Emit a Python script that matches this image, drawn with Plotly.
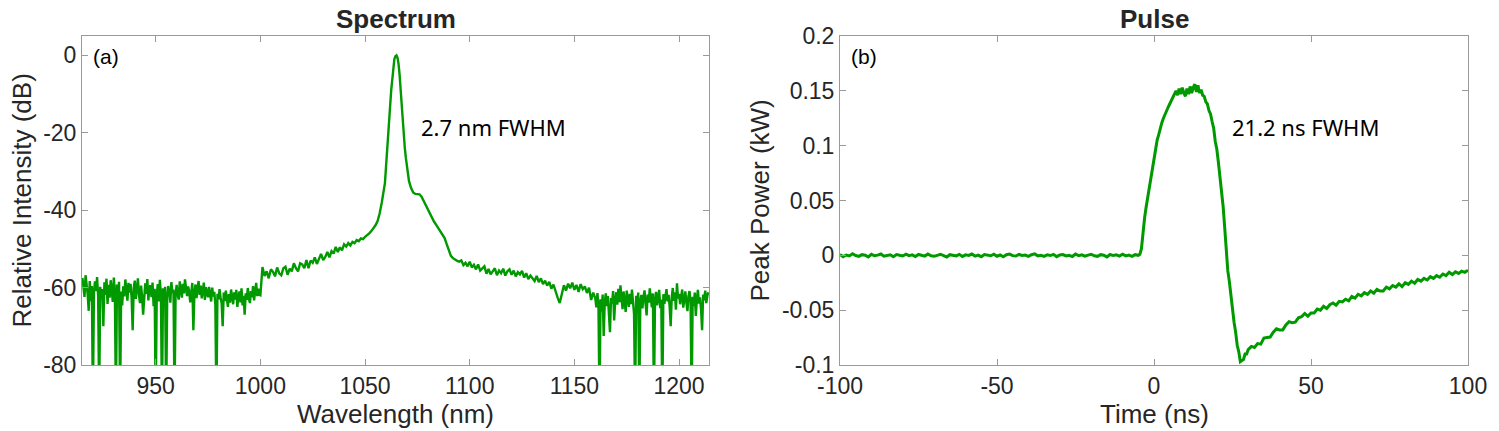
import plotly.graph_objects as go

# ---- spectrum (a): wavelength in nm, relative intensity in dB ----
# noisy floor on the short-wavelength side, 0.5 nm steps; -90 marks the detector dropouts below the axis
wl_left = [915 + 0.5 * i for i in range(171)]
db_left = [-57.5, -60.2, -62.4, -56.8, -59.1, -61.7, -66.0, -58.3, -63.5, -59.6,
           -90, -61.2, -58.4, -60.9, -57.3, -62.1, -90, -59.8, -63.0, -60.4,
           -70.0, -58.6, -61.9, -57.7, -64.2, -59.3, -62.6, -58.1, -60.8, -63.7,
           -57.4, -61.5, -90, -59.2, -62.8, -58.5, -90, -61.0, -64.6, -59.7,
           -62.3, -57.9, -60.6, -63.4, -58.8, -61.3, -59.0, -62.7, -71.0, -60.1,
           -58.2, -62.9, -60.4, -57.6, -61.8, -64.0, -59.5, -62.2, -67.0, -60.7,
           -58.9, -61.6, -57.8, -63.3, -60.0, -59.4, -62.5, -58.7, -64.8, -60.3,
           -90, -61.9, -59.1, -63.6, -58.0, -62.0, -90, -60.2, -64.3, -59.8,
           -90, -62.4, -59.6, -61.1, -63.9, -58.6, -61.4, -60.5, -90, -62.0,
           -59.3, -61.8, -63.1, -58.4, -60.7, -62.6, -59.0, -61.5, -57.9, -60.9,
           -62.2, -59.7, -61.0, -63.8, -60.3, -58.8, -71.0, -61.6, -59.2, -62.7,
           -60.1, -58.3, -61.9, -59.5, -62.8, -60.6, -58.7, -63.2, -59.9, -61.3,
           -62.5, -59.8, -61.2, -63.6, -60.0, -62.3, -61.1, -64.5, -90, -61.6,
           -63.0, -60.4, -62.6, -64.1, -70.0, -61.3, -63.5, -60.8, -62.9, -65.0,
           -61.7, -63.9, -60.5, -62.8, -64.3, -61.2, -63.1, -60.6, -65.0, -62.4,
           -61.0, -63.8, -60.2, -64.6, -62.1, -67.0, -61.5, -63.2, -60.1, -62.7,
           -64.0, -60.9, -62.5, -59.6, -63.3, -61.0, -58.8, -62.2, -60.3, -61.9,
           -62.0]

# rising wing after the 1000 nm step, 1 nm steps
wl_shoulder = list(range(1001, 1058))
db_shoulder = [-54.7, -57.0, -55.8, -57.6, -55.3, -55.9, -57.1, -54.8, -56.3, -56.8,
               -55.0, -54.6, -56.7, -55.1, -55.8, -53.7, -55.0, -55.8, -53.7, -54.0,
               -55.0, -52.9, -55.0, -53.0, -53.6, -52.2, -53.9, -52.4, -51.3, -52.9,
               -52.1, -50.8, -52.2, -50.6, -51.2, -49.5, -50.8, -49.6, -50.4, -48.8,
               -49.4, -48.5, -49.1, -48.2, -48.5, -47.7, -48.0, -47.3, -47.5, -46.9,
               -46.5, -46.0, -45.4, -44.7, -43.9, -42.8, -40.8]

wl_peak = [1058, 1059, 1059.5, 1060, 1060.5, 1061, 1061.5, 1062, 1062.5, 1063,
           1063.5, 1064, 1064.5, 1065, 1065.5, 1066, 1066.5, 1067, 1067.5, 1068,
           1068.5, 1069, 1069.5, 1070, 1070.5, 1071, 1072, 1073, 1074, 1075,
           1076, 1077, 1078, 1079, 1080, 1081, 1082, 1083, 1084, 1085,
           1086, 1087, 1088, 1089, 1090, 1091, 1092, 1093, 1094, 1095]
db_peak = [-38.0, -35.0, -33.0, -29.0, -25.5, -22.3, -17.5, -13.0, -9.0, -5.5,
           -2.8, -1.0, -0.2, 0.0, -0.6, -2.2, -5.0, -9.0, -13.5, -18.0,
           -21.5, -24.0, -26.5, -29.0, -31.0, -32.5, -34.3, -35.4, -35.8, -35.8,
           -35.9, -36.5, -37.6, -38.8, -40.0, -41.1, -42.1, -43.0, -43.8, -44.6,
           -45.4, -46.2, -47.2, -48.8, -50.6, -51.8, -52.4, -52.8, -53.1, -53.3]

# falling wing, 1 nm steps
wl_wing = list(range(1096, 1160))
db_wing = [-53.0, -54.2, -53.6, -54.5, -53.3, -54.8, -54.1, -55.3, -54.0, -55.6,
           -55.0, -54.5, -56.4, -55.2, -56.6, -55.9, -55.0, -56.8, -55.6, -56.3,
           -55.1, -56.9, -55.8, -55.3, -56.7, -55.6, -57.1, -56.0, -56.6, -55.7,
           -57.4, -56.3, -57.8, -56.9, -57.5, -58.3, -57.0, -58.6, -57.6, -59.1,
           -58.2, -59.5, -58.5, -60.3, -59.2, -61.2, -62.6, -64.0, -61.5, -59.4,
           -60.8, -59.0, -60.2, -58.7, -60.6, -59.3, -61.1, -59.1, -60.4, -59.7,
           -61.4, -60.0, -63.2, -61.3]

# noisy floor on the long-wavelength side, 0.5 nm steps
wl_right = [1160 + 0.5 * i for i in range(109)]
db_right = [-62.8, -65.1, -61.4, -64.6, -90, -63.0, -66.2, -61.8, -72.5, -63.9,
            -61.5, -64.8, -62.2, -66.5, -71.5, -62.7, -64.1, -60.9, -68.5, -63.4,
            -61.2, -64.4, -60.3, -63.8, -59.4, -62.5, -65.6, -61.0, -63.7, -66.3,
            -60.8, -63.2, -65.0, -61.6, -64.3, -60.5, -62.9, -66.8, -90, -62.1,
            -64.7, -61.3, -90, -63.5, -61.9, -65.4, -62.6, -60.7, -64.0, -67.2,
            -61.8, -63.9, -60.2, -62.4, -65.1, -61.5, -90, -63.3, -61.1, -64.6,
            -62.0, -60.6, -65.3, -63.1, -90, -61.7, -64.2, -62.3, -60.4, -63.6,
            -61.9, -64.9, -70.0, -62.5, -60.1, -63.4, -61.2, -65.7, -58.9, -62.8,
            -61.6, -64.3, -62.0, -60.5, -65.2, -62.7, -61.0, -63.9, -66.1, -62.2,
            -60.9, -63.7, -90, -62.4, -64.8, -61.3, -67.3, -62.9, -60.6, -64.1,
            -62.5, -65.6, -71.0, -61.8, -63.3, -60.8, -64.0, -62.1, -61.2]

wavelength = wl_left + wl_shoulder + wl_peak + wl_wing + wl_right
intensity = db_left + db_shoulder + db_peak + db_wing + db_right

# ---- pulse (b): time in ns, peak power in kW ----
t_base = list(range(-100, -4))
p_base = [0.0008, -0.0012, 0.0003, -0.0005, 0.0014, -0.0002, -0.0010, 0.0006, 0.0001, -0.0014,
          0.0009, -0.0004, 0.0002, 0.0012, -0.0008, -0.0001, 0.0005, -0.0013, 0.0007, 0.0000,
          -0.0006, 0.0011, -0.0003, 0.0004, -0.0011, 0.0008, 0.0002, -0.0007, 0.0013, -0.0004,
          -0.0009, 0.0003, 0.0010, -0.0002, -0.0015, 0.0006, 0.0001, -0.0005, 0.0009, -0.0010,
          0.0004, -0.0001, 0.0012, -0.0007, 0.0002, -0.0012, 0.0007, 0.0000, -0.0004, 0.0010,
          -0.0008, 0.0003, -0.0013, 0.0005, 0.0011, -0.0003, -0.0006, 0.0008, -0.0001, 0.0002,
          -0.0010, 0.0006, 0.0013, -0.0005, 0.0001, -0.0009, 0.0004, -0.0002, 0.0009, -0.0012,
          0.0003, 0.0007, -0.0006, 0.0000, -0.0011, 0.0012, -0.0003, 0.0005, -0.0008, 0.0002,
          0.0010, -0.0004, -0.0009, 0.0006, 0.0001, -0.0014, 0.0008, -0.0002, 0.0004, -0.0007,
          0.0011, -0.0005, 0.0002, -0.0010, 0.0006, 0.0000]

t_pulse = [-4.5, -4, -3.5, -3, -2.5, -2, -1.5, -1, -0.5, 0,
           0.5, 1, 1.5, 2, 2.5, 3, 3.5, 4, 4.5, 5,
           5.5, 6, 6.5, 7, 7.5, 8, 8.5, 9, 9.5, 10,
           10.5, 11, 11.5, 12, 12.5, 13, 13.5, 14, 14.5, 15,
           15.5, 16, 16.5, 17, 17.5, 18, 18.5, 19, 19.5, 20,
           20.5, 21, 21.5, 22, 22.5, 23, 23.5, 24, 24.5, 25,
           25.5, 26, 26.5, 27, 27.5, 28, 28.5, 29, 29.5, 30]
p_pulse = [0.001, 0.006, 0.024, 0.034, 0.044, 0.053, 0.062, 0.071, 0.080, 0.090,
           0.098, 0.105, 0.110, 0.116, 0.121, 0.125, 0.129, 0.132, 0.135, 0.138,
           0.141, 0.144, 0.146, 0.150, 0.146, 0.152, 0.147, 0.153, 0.148, 0.145,
           0.152, 0.147, 0.154, 0.148, 0.153, 0.156, 0.149, 0.155, 0.148, 0.151,
           0.146, 0.145, 0.140, 0.138, 0.132, 0.129, 0.122, 0.116, 0.104, 0.097,
           0.085, 0.073, 0.057, 0.045, 0.026, 0.005, -0.014, -0.024, -0.038, -0.047,
           -0.061, -0.070, -0.082, -0.088, -0.097, -0.096, -0.095, -0.090, -0.090, -0.086]

t_tail = list(range(31, 101))
p_tail = [-0.083, -0.084, -0.0805, -0.081, -0.0755, -0.075, -0.0745, -0.070, -0.067, -0.068,
          -0.068, -0.0635, -0.0605, -0.0615, -0.061, -0.057, -0.056, -0.053, -0.0555, -0.0525,
          -0.0525, -0.049, -0.050, -0.0465, -0.0485, -0.045, -0.0435, -0.0455, -0.042, -0.0425,
          -0.040, -0.0415, -0.0375, -0.039, -0.0355, -0.037, -0.034, -0.0355, -0.0325, -0.0345,
          -0.031, -0.0325, -0.0325, -0.029, -0.0305, -0.0275, -0.029, -0.026, -0.0285, -0.025,
          -0.0265, -0.0235, -0.0255, -0.022, -0.0235, -0.021, -0.0225, -0.0195, -0.021, -0.0185,
          -0.020, -0.017, -0.0185, -0.0155, -0.0175, -0.015, -0.0165, -0.0145, -0.0155, -0.0135]

time_ns = t_base + t_pulse + t_tail
power_kw = p_base + p_pulse + p_tail

x1_ticks = [950, 1000, 1050, 1100, 1150, 1200]
y1_ticks = [-80, -60, -40, -20, 0]
x2_ticks = [-100, -50, 0, 50, 100]
y2_ticks = [-0.1, -0.05, 0, 0.05, 0.1, 0.15, 0.2]

green = "#009900"
axis_grey = "#9a9a9a"
text_col = "#262626"
base_font = "Liberation Sans, Arial, sans-serif"

fig = go.Figure()
fig.add_trace(go.Scatter(x=wavelength, y=intensity, mode="lines",
                         line=dict(color=green, width=2.4), xaxis="x", yaxis="y",
                         showlegend=False))
fig.add_trace(go.Scatter(x=time_ns, y=power_kw, mode="lines",
                         line=dict(color=green, width=3), xaxis="x2", yaxis="y2",
                         showlegend=False))

W, H = 1499, 431
OFF = 8  # page body margin shifts the figure; positions below are in reference pixels
box_a = (82 - OFF, 709 - OFF)
box_b = (840 - OFF, 1468 - OFF)
top, bottom = 36 - OFF, 365 - OFF


def ax_style(**kw):
    d = dict(showline=True, linecolor=axis_grey, linewidth=1, mirror="ticks",
             ticks="inside", ticklen=6, tickcolor=axis_grey, tickwidth=1,
             showgrid=False, zeroline=False, automargin=False,
             tickfont=dict(family=base_font, size=23, color=text_col))
    d.update(kw)
    return d


def lbl(v):
    return "%g" % v


ydom = [1 - bottom / H, 1 - top / H]
fig.update_layout(
    width=W, height=H,
    margin=dict(l=0, r=0, t=0, b=0),
    paper_bgcolor="white", plot_bgcolor="white",
    xaxis=ax_style(domain=[box_a[0] / W, box_a[1] / W], range=[914.8, 1214.3],
                   tickvals=x1_ticks, ticktext=[lbl(v) for v in x1_ticks], anchor="y"),
    yaxis=ax_style(domain=ydom, range=[-80, 5],
                   tickvals=y1_ticks, ticktext=[lbl(v) for v in y1_ticks], anchor="x"),
    xaxis2=ax_style(domain=[box_b[0] / W, box_b[1] / W], range=[-100, 100],
                    tickvals=x2_ticks, ticktext=[lbl(v) for v in x2_ticks], anchor="y2"),
    yaxis2=ax_style(domain=ydom, range=[-0.1, 0.2],
                    tickvals=y2_ticks, ticktext=[lbl(v) for v in y2_ticks], anchor="x2"),
)

title_font = dict(family=base_font, size=26, color=text_col)
axis_font = dict(family=base_font, size=26, color=text_col)
note_font = dict(family="Noto Sans, Open Sans, sans-serif", size=22, color="black")
label_font = dict(family=base_font, size=21, color="black")

# panel titles
for ref, txt in (("x domain", "Spectrum"), ("x2 domain", "Pulse")):
    fig.add_annotation(text="<b>%s</b>" % txt, xref=ref, yref="paper", x=0.5,
                       y=1 - (19 - OFF) / H, xanchor="center", yanchor="middle",
                       showarrow=False, font=title_font)

# axis titles
fig.add_annotation(text="Wavelength (nm)", xref="x domain", yref="paper", x=0.5,
                   y=1 - (414 - OFF) / H, xanchor="center", yanchor="middle",
                   showarrow=False, font=axis_font)
fig.add_annotation(text="Time (ns)", xref="x2 domain", yref="paper", x=0.5,
                   y=1 - (414 - OFF) / H, xanchor="center", yanchor="middle",
                   showarrow=False, font=axis_font)
fig.add_annotation(text="Relative Intensity (dB)", xref="paper", yref="y domain",
                   x=(22 - OFF) / W, y=0.5, textangle=-90, xanchor="center",
                   yanchor="middle", showarrow=False, font=axis_font)
fig.add_annotation(text="Peak Power (kW)", xref="paper", yref="y2 domain",
                   x=(760 - OFF) / W, y=0.5, textangle=-90, xanchor="center",
                   yanchor="middle", showarrow=False, font=axis_font)

# panel labels and FWHM notes
fig.add_annotation(text="(a)", xref="x domain", yref="y domain", x=0.014, y=0.939,
                   xanchor="left", yanchor="middle", showarrow=False, font=label_font)
fig.add_annotation(text="(b)", xref="x2 domain", yref="y2 domain", x=0.014, y=0.939,
                   xanchor="left", yanchor="middle", showarrow=False, font=label_font)
fig.add_annotation(text="2.7 nm FWHM", xref="x", yref="y", x=1076.0, y=-18.5,
                   xanchor="left", yanchor="middle", showarrow=False, font=note_font)
fig.add_annotation(text="21.2 ns FWHM", xref="x2", yref="y2", x=24.2, y=0.117,
                   xanchor="left", yanchor="middle", showarrow=False, font=note_font)

fig.write_html("out.html")
